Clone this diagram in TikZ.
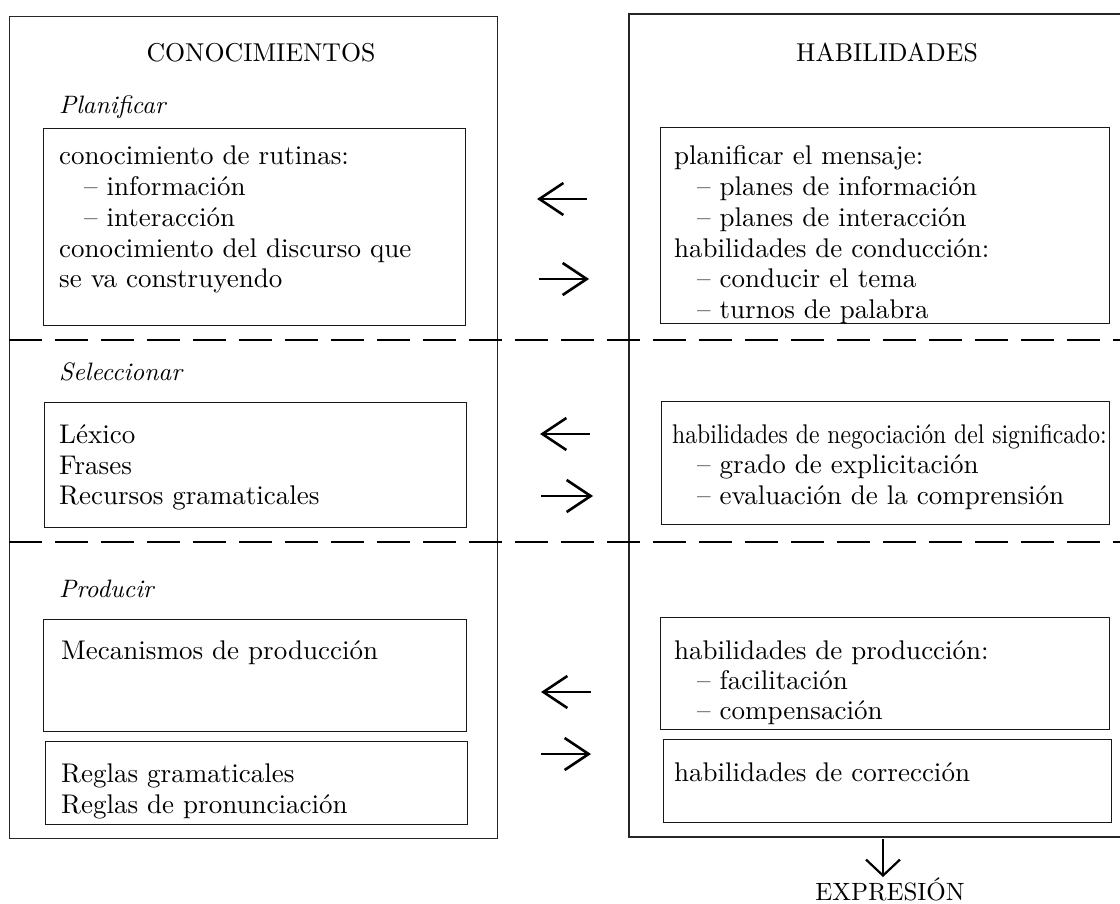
\documentclass[tikz,border=0pt]{standalone}
\usepackage{fontspec}
\setmainfont{lmroman10-regular.otf}[ItalicFont=lmroman10-italic.otf, BoldFont=lmroman10-bold.otf]
\usepackage{graphicx}
\usetikzlibrary{arrows.meta}
\begin{document}
\begin{tikzpicture}[x=1pt,y=-1pt,
  outer/.style={line width=1.3pt, draw=black!85},
  box/.style={draw=black!90, line width=1.4pt, inner sep=0pt, anchor=north west},
  txt/.style={anchor=base west, inner sep=0pt, font=\fontsize{27}{31}\selectfont},
  head/.style={anchor=base, inner sep=0pt, font=\fontsize{25.8}{29}\selectfont},
  lab/.style={anchor=base west, inner sep=0pt, font=\fontsize{25.2}{29}\selectfont\itshape},
  sep/.style={line width=2pt, dash pattern=on 33pt off 13pt},
  harrow/.style={line width=2.6pt, -{Straight Barb[length=24pt,width=32pt]}},
  varrow/.style={line width=2.2pt, -{Straight Barb[length=16pt,width=34pt]}}]
\fill[white] (0,0) rectangle (1120,904);
\useasboundingbox (0,0) rectangle (1120,904);

% outer frames
\node[box, draw=black!85, line width=1.3pt, minimum width=488pt, minimum height=822pt] (lo) at (9,16) {};
\coordinate (rotr) at (1130,14);
\coordinate (rotl) at (629,14);
\coordinate (robl) at (629,837);
\coordinate (robr) at (1130,837);
\draw[outer] (rotr) -- (rotl) -- (robl) -- (robr);

% dashed separators
\coordinate (s1a) at (9,340); \coordinate (s1b) at (1130,340);
\coordinate (s2a) at (9,542); \coordinate (s2b) at (1130,542);
\draw[sep] (s1a) -- (s1b);
\draw[sep] (s2a) -- (s2b);

% headings
\node[head] (hc) at (261,62) {CONOCIMIENTOS};
\node[head] (hh) at (887,62) {HABILIDADES};
\node[lab] (lp) at (59,114) {Planificar};
\node[lab] (ls) at (59,380) {Seleccionar};
\node[lab] (lpr) at (59,597) {Producir};

% left boxes
\node[box, minimum width=422pt, minimum height=197pt] (b1) at (43,128) {};
\node[box, minimum width=422pt, minimum height=125pt] (b2) at (44,402) {};
\node[box, minimum width=423pt, minimum height=112pt] (b3) at (43,619) {};
\node[box, minimum width=422pt, minimum height=83pt] (b4) at (45,741) {};

% right boxes
\node[box, minimum width=449pt, minimum height=196pt] (r1) at (660,127) {};
\node[box, minimum width=448pt, minimum height=123pt] (r2) at (661,401) {};
\node[box, minimum width=449pt, minimum height=112pt] (r3) at (660,617) {};
\node[box, minimum width=448pt, minimum height=83pt] (r4) at (663,739) {};

% left texts
\node[txt] (t11) at (59,165) {conocimiento de rutinas:};
\node[txt] (t12) at (84,196) {– información};
\node[txt] (t13) at (84,227) {– interacción};
\node[txt] (t14) at (59,258) {conocimiento del discurso que};
\node[txt] (t15) at (59,288) {se va construyendo};

\node[txt] (t21) at (59,443) {Léxico};
\node[txt] (t22) at (59,474) {Frases};
\node[txt] (t23) at (59,504) {Recursos gramaticales};

\node[txt] (t31) at (61,659) {Mecanismos de producción};

\node[txt] (t41) at (61,782) {Reglas gramaticales};
\node[txt] (t42) at (61,813) {Reglas de pronunciación};

% right texts
\node[txt] (u11) at (674,165) {planificar el mensaje:};
\node[txt] (u12) at (697,196) {– planes de información};
\node[txt] (u13) at (697,227) {– planes de interacción};
\node[txt] (u14) at (674,258) {habilidades de conducción:};
\node[txt] (u15) at (697,288) {– conducir el tema};
\node[txt] (u16) at (697,319) {– turnos de palabra};

\node[txt] (u21) at (672,443) {\scalebox{0.876}[1]{habilidades de negociación del significado:}};
\node[txt] (u22) at (697,473) {– grado de explicitación};
\node[txt] (u23) at (697,504) {– evaluación de la comprensión};

\node[txt] (u31) at (674,659) {habilidades de producción:};
\node[txt] (u32) at (697,689) {– facilitación};
\node[txt] (u33) at (697,719) {– compensación};

\node[txt] (u41) at (674,781) {habilidades de corrección};

% arrows between columns
\coordinate (a1s) at (587,199); \coordinate (a1e) at (537,199);
\coordinate (a2s) at (539,279); \coordinate (a2e) at (589,279);
\coordinate (a3s) at (590,434); \coordinate (a3e) at (540,434);
\coordinate (a4s) at (541,496); \coordinate (a4e) at (593,496);
\coordinate (a5s) at (591,692); \coordinate (a5e) at (541,692);
\coordinate (a6s) at (541,754); \coordinate (a6e) at (591,754);
\draw[harrow] (a1s) -- (a1e);
\draw[harrow] (a2s) -- (a2e);
\draw[harrow] (a3s) -- (a3e);
\draw[harrow] (a4s) -- (a4e);
\draw[harrow] (a5s) -- (a5e);
\draw[harrow] (a6s) -- (a6e);

% output
\node[head, font=\fontsize{25}{29}\selectfont] (ex) at (890,900) {EXPRESIÓN};
\coordinate (d1) at (883,839);
\draw[varrow] (d1) -- (ex.north -| d1);
\end{tikzpicture}
\end{document}
